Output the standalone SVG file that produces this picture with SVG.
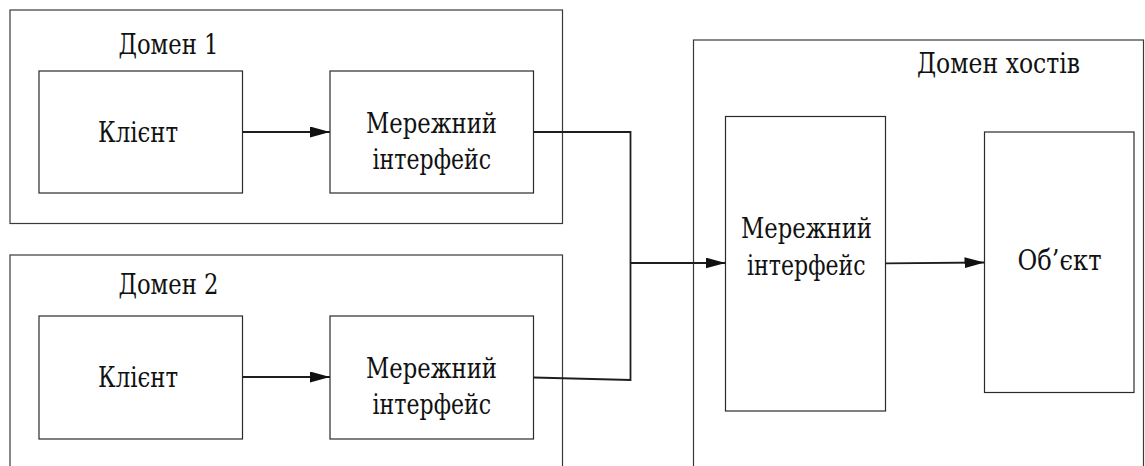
<svg xmlns="http://www.w3.org/2000/svg" width="1145" height="466" viewBox="0 0 1145 466">
  <style>
    .frame { fill: #ffffff; stroke: #3a3a3a; stroke-width: 1.2; }
    .box { fill: #ffffff; stroke: #2a2a2a; stroke-width: 1.2; }
    .lbl, .title { font-family: "DejaVu Serif", serif; fill: #111111; }
    .lbl { font-size: 27.5px; }
    .title { font-size: 28px; }
    .wire { fill: none; stroke: #1e1e1e; stroke-width: 1.8; }
  </style>
  <defs>
    <marker id="arrow" viewBox="0 0 20 11" refX="20" refY="5.5" markerWidth="20" markerHeight="11" markerUnits="userSpaceOnUse" orient="auto">
      <path d="M0,0 L20,5.5 L0,11 Z" fill="#111111"/>
    </marker>
  </defs>
  <rect width="1145" height="466" fill="#ffffff"/>

  <!-- Domain 1 -->
  <g id="domain1">
    <rect class="frame" x="10" y="10" width="552.5" height="213.5"/>
    <text class="title" x="118.5" y="54" textLength="100" lengthAdjust="spacingAndGlyphs">Домен 1</text>
  </g>
  <g id="client1">
    <rect class="box" x="39" y="71" width="203.5" height="122"/>
    <text class="lbl" x="98" y="142" textLength="80" lengthAdjust="spacingAndGlyphs">Клієнт</text>
  </g>
  <g id="netif1">
    <rect class="box" x="330" y="71" width="203.5" height="122"/>
    <text class="lbl" x="366" y="133" textLength="131" lengthAdjust="spacingAndGlyphs">Мережний</text>
    <text class="lbl" x="372.5" y="168.5" textLength="118.5" lengthAdjust="spacingAndGlyphs">інтерфейс</text>
  </g>

  <!-- Domain 2 -->
  <g id="domain2">
    <rect class="frame" x="10" y="255" width="552.5" height="230"/>
    <text class="title" x="118.5" y="294" textLength="100" lengthAdjust="spacingAndGlyphs">Домен 2</text>
  </g>
  <g id="client2">
    <rect class="box" x="39" y="316" width="203.5" height="123"/>
    <text class="lbl" x="98" y="387" textLength="80" lengthAdjust="spacingAndGlyphs">Клієнт</text>
  </g>
  <g id="netif2">
    <rect class="box" x="330" y="316" width="203.5" height="123"/>
    <text class="lbl" x="366" y="378" textLength="131" lengthAdjust="spacingAndGlyphs">Мережний</text>
    <text class="lbl" x="372.5" y="413.5" textLength="118.5" lengthAdjust="spacingAndGlyphs">інтерфейс</text>
  </g>

  <!-- Host domain -->
  <g id="hostdomain">
    <rect class="frame" x="693.5" y="40" width="450" height="440"/>
    <text class="title" x="917" y="73" textLength="163" lengthAdjust="spacingAndGlyphs">Домен хостів</text>
  </g>
  <g id="hostnetif">
    <rect class="box" x="725.5" y="116.5" width="160" height="294.5"/>
    <text class="lbl" x="741" y="238" textLength="131" lengthAdjust="spacingAndGlyphs">Мережний</text>
    <text class="lbl" x="747" y="275" textLength="118.5" lengthAdjust="spacingAndGlyphs">інтерфейс</text>
  </g>
  <g id="object">
    <rect class="box" x="984.5" y="132" width="149.5" height="260.5"/>
    <text class="lbl" x="1017.5" y="270" textLength="84" lengthAdjust="spacingAndGlyphs">Об’єкт</text>
  </g>

  <!-- Connectors -->
  <g id="connectors">
    <line class="wire" x1="242.5" y1="132" x2="330" y2="132" marker-end="url(#arrow)"/>
    <line class="wire" x1="242.5" y1="377" x2="330" y2="377" marker-end="url(#arrow)"/>
    <polyline class="wire" points="533.5,132 630.5,132 630.5,380 533.5,377.5"/>
    <line class="wire" x1="630.5" y1="263" x2="725.5" y2="263" marker-end="url(#arrow)"/>
    <line class="wire" x1="885.5" y1="263.3" x2="984.5" y2="262.5" marker-end="url(#arrow)"/>
  </g>
</svg>
